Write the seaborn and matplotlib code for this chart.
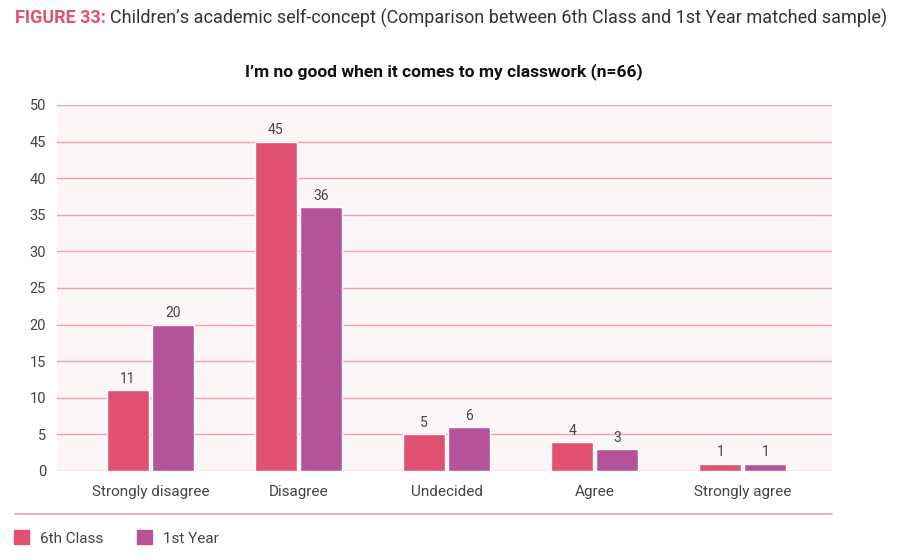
import matplotlib
matplotlib.use("Agg")
import matplotlib.pyplot as plt
import matplotlib.patches as mpatches
import matplotlib.lines as mlines
import pandas as pd
import seaborn as sns

# Data
categories = ["Strongly disagree", "Disagree", "Undecided", "Agree", "Strongly agree"]
sixth_class = [11, 45, 5, 4, 1]
first_year = [20, 36, 6, 3, 1]
series_names = ["6th Class", "1st Year"]
y_ticks = [0, 5, 10, 15, 20, 25, 30, 35, 40, 45, 50]

PINK = "#e0526f"
PURPLE = "#b4539a"
GRID = "#eaa3b3"
TEXT = "#444444"

df = pd.DataFrame({
    "category": categories * 2,
    "value": sixth_class + first_year,
    "group": [series_names[0]] * len(categories) + [series_names[1]] * len(categories),
})

sns.set_theme(style="white")
plt.rcParams["font.family"] = ["Roboto", "DejaVu Sans"]

fig = plt.figure(figsize=(9.12, 5.6), dpi=100)
ax = fig.add_axes([0.0625, 0.159, 0.8495, 0.6535])
ax.set_facecolor("#fdf6f7")

sns.barplot(data=df, x="category", y="value", hue="group", order=categories,
            hue_order=series_names, palette=[PINK, PURPLE], width=0.61, gap=0.07,
            ax=ax, legend=False, saturation=1)

for container in ax.containers:
    ax.bar_label(container, padding=3, fontsize=10, color=TEXT)

ax.set_ylim(0, 50)
ax.set_xlim(-0.63, 4.6)
ax.set_yticks(y_ticks)
ax.yaxis.grid(True, color=GRID, linewidth=1)
ax.set_axisbelow(True)
for s in ax.spines.values():
    s.set_visible(False)
ax.tick_params(axis="y", length=0, labelsize=10.5, colors=TEXT, pad=8)
ax.tick_params(axis="x", length=0, labelsize=11, colors=TEXT, pad=10)
ax.set_xlabel("")
ax.set_ylabel("")

# Titles
t1 = fig.text(15 / 912, 1 - 18 / 560, "FIGURE 33:", fontsize=13.0, fontweight="bold",
              color=PINK, va="center", ha="left")
fig.canvas.draw()
bb = t1.get_window_extent()
fig.text((bb.x1 + 4) / 912, 1 - 18 / 560,
         "Children\u2019s academic self-concept (Comparison between 6th Class and 1st Year matched sample)",
         fontsize=13.0, color="#333333", va="center", ha="left")
fig.text(444 / 912, 1 - 72 / 560, "I\u2019m no good when it comes to my classwork (n=66)",
         fontsize=12.5, fontweight="bold", color="#111111", ha="center", va="center")

# Separator line
fig.add_artist(mlines.Line2D([15 / 912, 832 / 912], [1 - 514 / 560, 1 - 514 / 560],
                             color=GRID, linewidth=1.2))

# Legend
handles = [mpatches.Patch(color=PINK, label=series_names[0]),
           mpatches.Patch(color=PURPLE, label=series_names[1])]
fig.legend(handles=handles, loc="center left", bbox_to_anchor=(0.0, 1 - 538 / 560),
           ncol=2, frameon=False, fontsize=11, handlelength=1.0, handleheight=1.0,
           columnspacing=2.2, handletextpad=0.7, labelcolor=TEXT)

fig.savefig("out.png", dpi=100)
